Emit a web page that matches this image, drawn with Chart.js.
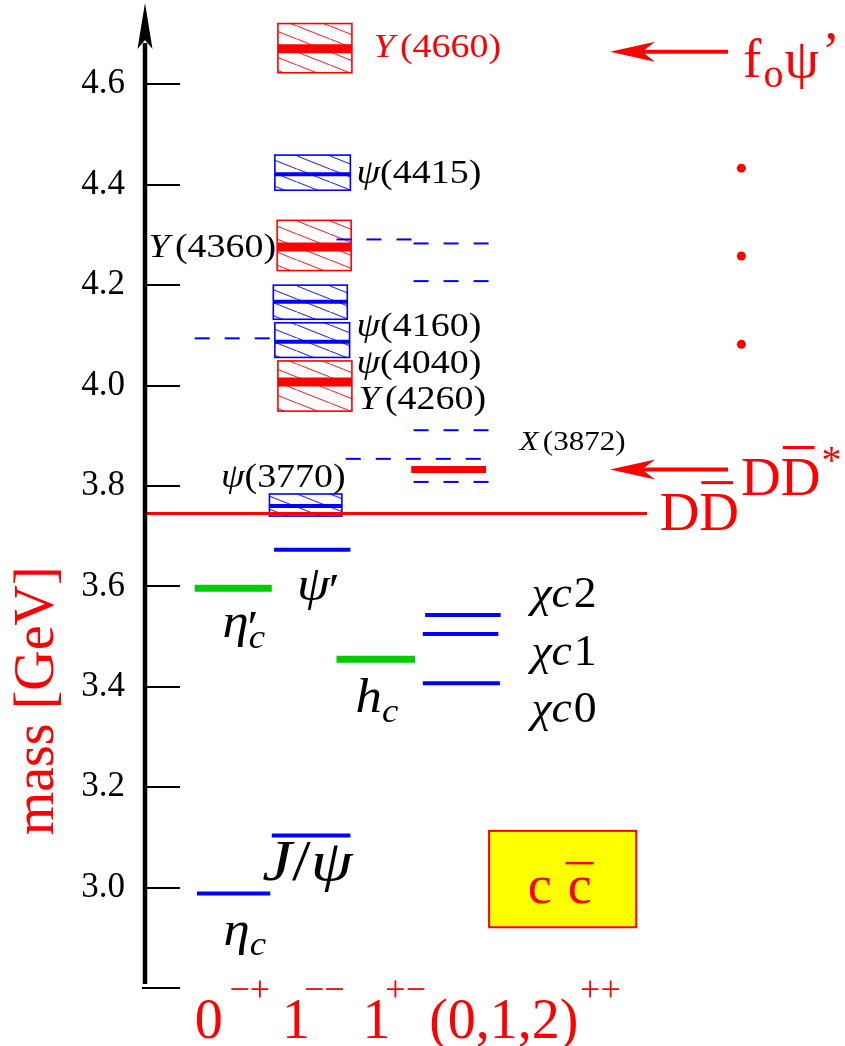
<!DOCTYPE html>
<html><head><meta charset="utf-8">
<script src="https://cdn.jsdelivr.net/npm/chart.js@4.4.1/dist/chart.umd.min.js"></script>
<style>html,body{margin:0;padding:0;background:#fff;overflow:hidden}</style>
</head><body>
<canvas id="c" width="845" height="1046" style="display:block;width:845px;height:1046px"></canvas>
<script>
// ================= DATA =================
// y tick values and labels (GeV)
const yTickValues = [2.8, 3.0, 3.2, 3.4, 3.6, 3.8, 4.0, 4.2, 4.4, 4.6];
const yTickLabels = ['', '3.0', '3.2', '3.4', '3.6', '3.8', '4.0', '4.2', '4.4', '4.6'];

// J^PC column labels (x axis): base text, superscript, and their start (column units)
const jpcBase = ['0', '1', '1', '(0,1,2)'];
const jpcSup  = ['−+', '−−', '+−', '++'];
const jpcX    = [0.62, 1.754, 2.797, 3.662];
const jpcSupX = [1.070, 2.037, 3.094, 5.621];

// established narrow levels (mass in GeV, horizontal span in column units)
const levelNames = ['η_c', 'J/ψ', 'η′_c', 'ψ′', 'h_c', 'χc0', 'χc1', 'χc2', 'X(3872)'];
const levelMass  = [2.988, 3.104, 3.596, 3.673, 3.455, 3.407, 3.505, 3.543, 3.833];
const levelFrom  = [0.65, 1.62, 0.62, 1.65, 2.46, 3.58, 3.58, 3.61, 3.43];
const levelTo    = [1.60, 2.64, 1.62, 2.64, 3.48, 4.58, 4.56, 4.59, 4.40];
const levelKind  = ['blue', 'blue', 'green', 'blue', 'green', 'blue', 'blue', 'blue', 'red'];

// broad resonances: central mass and width band
const resNames = ['ψ(3770)', 'Y(4260)', 'ψ(4040)', 'ψ(4160)', 'Y(4360)', 'ψ(4415)', 'Y(4660)'];
const resMass  = [3.760, 4.007, 4.087, 4.167, 4.276, 4.421, 4.671];
const resLow   = [3.740, 3.949, 4.056, 4.132, 4.229, 4.389, 4.623];
const resHigh  = [3.784, 4.049, 4.125, 4.200, 4.329, 4.459, 4.721];
const resFrom  = [1.59, 1.70, 1.66, 1.64, 1.69, 1.66, 1.70];
const resTo    = [2.53, 2.66, 2.63, 2.60, 2.65, 2.64, 2.66];
const resKind  = ['blue', 'red', 'blue', 'blue', 'red', 'blue', 'red'];

// predicted (potential model) levels, dashed
const predMass = [4.094, 4.291, 4.283, 4.208, 3.911, 3.854, 3.808];
const predFrom = [0.62, 2.46, 3.46, 3.46, 3.46, 2.58, 3.46];
const predTo   = [1.62, 3.47, 4.45, 4.45, 4.45, 4.45, 4.45];

// open-charm threshold
const thresholdName = 'DD̄';
const thresholdMass = 3.745;
const thresholdFrom = 0.0;
const thresholdTo   = 6.49;

// thresholds pointed at by arrows
const arrowNames = ['f0ψ′', 'DD̄*'];
const arrowMass  = [4.665, 3.833];
const arrowFrom  = [7.54, 7.54];
const arrowTo    = [6.01, 6.01];

// ellipsis dots
const dotMass = [4.433, 4.258, 4.082];
const dotX    = [7.714, 7.714, 7.714];

// level labels: text, anchor x (column units), baseline mass
const smallLabelText  = ['Y(4660)', 'ψ(4415)', 'Y(4360)', 'ψ(4160)', 'ψ(4040)', 'Y(4260)', 'ψ(3770)', 'X(3872)'];
const smallLabelX     = [2.94, 2.72, 1.676, 2.72, 2.72, 2.745, 2.579, 4.835];
const smallLabelMass  = [4.654, 4.403, 4.256, 4.098, 4.025, 3.953, 3.798, 3.871];
const smallLabelAlign = ['left', 'left', 'right', 'left', 'left', 'left', 'right', 'left'];
const smallLabelColor = ['red', 'black', 'black', 'black', 'black', 'black', 'black', 'black'];

const bigLabelText = ['ψ′', 'η′_c', 'h_c', 'χc2', 'χc1', 'χc0', 'J/ψ', 'η_c'];
const bigLabelX    = [1.947, 0.98, 2.708, 4.99, 4.99, 4.99, 1.496, 0.993];
const bigLabelMass = [3.573, 3.499, 3.350, 3.559, 3.443, 3.330, 3.015, 2.886];

// ================= STYLE =================
const COLORS = { blue: '#0000ff', green: '#00cc00', red: '#ff0000', black: '#000000' };
const KIND_WIDTH = { blue: 4, green: 7, red: 7 };
const RES_WIDTH = { blue: 4, red: 9 };
const SERIF = '"Liberation Serif", "Times New Roman", serif';
function fnt(size, italic) { return (italic ? 'italic ' : '') + size + 'px ' + SERIF; }

function parseMath(s) {
  const parts = [];
  for (let i = 0; i < s.length; i++) {
    const ch = s[i];
    if (ch === '_') { const c = s[++i]; parts.push({ t: c, it: /\p{L}/u.test(c), role: 'sub' }); continue; }
    if (ch === '′') { parts.push({ t: '′', it: false, role: 'sup', noAdv: s[i + 1] === '_' }); continue; }
    parts.push({ t: ch, it: /\p{L}/u.test(ch), role: 'base' });
  }
  return parts;
}
function drawMath(ctx, s, x, y, size, color, align, sx) {
  sx = sx || 1;
  const parts = parseMath(s);
  const ms = parts.map((p, i) => {
    const sz = p.role === 'base' ? size : p.role === 'sup' ? size * 0.95 : size * 0.7;
    ctx.font = fnt(sz, p.it);
    let w = ctx.measureText(p.t).width;
    const nx = parts[i + 1];
    if (p.it && p.role === 'base' && /[A-Z]/.test(p.t) && nx && nx.t === '(') w += size * 0.14;
    if (p.it && p.role === 'base' && nx && nx.role === 'base' && !nx.it && nx.t !== '(' && nx.t !== '/') w += size * 0.04;
    if (p.role === 'sup') w *= 0.7;
    return { sz, w };
  });
  let total = 0;
  parts.forEach((p, i) => { if (!p.noAdv) total += ms[i].w; });
  total *= sx;
  const x0 = align === 'right' ? x - total : align === 'center' ? x - total / 2 : x;
  ctx.save();
  ctx.translate(x0, y);
  ctx.scale(sx, 1);
  ctx.fillStyle = color; ctx.textBaseline = 'alphabetic'; ctx.textAlign = 'left';
  let cx = 0;
  parts.forEach((p, i) => {
    const m = ms[i];
    ctx.font = fnt(m.sz, p.it);
    const dy = p.role === 'sub' ? size * 0.22 : p.role === 'sup' ? size * 0.12 : 0;
    ctx.fillText(p.t, cx + (p.role === 'sup' ? -size * 0.02 : 0), dy);
    if (!p.noAdv) cx += m.w;
  });
  ctx.restore();
}

function hatchPattern(ctx, color) {
  const c = document.createElement('canvas');
  c.width = 33; c.height = 13;
  const g = c.getContext('2d');
  g.strokeStyle = color; g.lineWidth = 1.1; g.globalAlpha = 0.85;
  g.beginPath(); g.moveTo(-33, -13); g.lineTo(66, 26); g.stroke();
  return ctx.createPattern(c, 'repeat');
}

// ================= DATASETS =================
const datasets = [];
levelMass.forEach((m, i) => datasets.push({
  label: levelNames[i],
  data: [{ x: levelFrom[i], y: m }, { x: levelTo[i], y: m }],
  showLine: true, borderColor: COLORS[levelKind[i]], borderWidth: KIND_WIDTH[levelKind[i]],
  pointRadius: 0, borderCapStyle: 'butt'
}));
resMass.forEach((m, i) => datasets.push({
  label: resNames[i],
  data: [{ x: resFrom[i], y: m }, { x: resTo[i], y: m }],
  showLine: true, borderColor: COLORS[resKind[i]], borderWidth: RES_WIDTH[resKind[i]],
  pointRadius: 0, borderCapStyle: 'butt'
}));
predMass.forEach((m, i) => datasets.push({
  label: 'predicted',
  data: [{ x: predFrom[i], y: m }, { x: predTo[i], y: m }],
  showLine: true, borderColor: COLORS.blue, borderWidth: 2, borderDash: [15, 15],
  pointRadius: 0, borderCapStyle: 'butt'
}));
datasets.push({
  label: thresholdName,
  data: [{ x: thresholdFrom, y: thresholdMass }, { x: thresholdTo, y: thresholdMass }],
  showLine: true, borderColor: COLORS.red, borderWidth: 3, pointRadius: 0
});
datasets.push({
  label: 'dots',
  data: dotMass.map((m, i) => ({ x: dotX[i], y: m })),
  showLine: false, pointRadius: 4.5, pointBackgroundColor: COLORS.red, pointBorderWidth: 0
});

// ================= PLUGIN =================
const diagram = {
  id: 'diagram',
  beforeDatasetsDraw(chart) {
    const { ctx } = chart;
    const X = v => chart.scales.x.getPixelForValue(v);
    const Y = v => chart.scales.y.getPixelForValue(v);
    resMass.forEach((m, i) => {
      const col = COLORS[resKind[i]];
      const x0 = X(resFrom[i]), x1 = X(resTo[i]);
      const y0 = Y(resHigh[i]), y1 = Y(resLow[i]);
      ctx.save();
      ctx.fillStyle = hatchPattern(ctx, col);
      ctx.fillRect(x0, y0, x1 - x0, y1 - y0);
      ctx.strokeStyle = col; ctx.lineWidth = 1.6;
      ctx.strokeRect(x0, y0, x1 - x0, y1 - y0);
      ctx.restore();
    });
    // c cbar box
    const bx0 = X(4.44), bx1 = X(6.35), by0 = Y(3.113), by1 = Y(2.921);
    ctx.save();
    ctx.fillStyle = '#ffff00'; ctx.fillRect(bx0, by0, bx1 - bx0, by1 - by0);
    ctx.strokeStyle = COLORS.red; ctx.lineWidth = 2; ctx.strokeRect(bx0, by0, bx1 - bx0, by1 - by0);
    ctx.fillStyle = COLORS.red; ctx.font = fnt(54, false); ctx.textBaseline = 'alphabetic'; ctx.textAlign = 'center';
    const cx = (bx0 + bx1) / 2, base = by0 + 72;
    ctx.fillText('c', cx - 23, base);
    ctx.fillText('c', cx + 17, base);
    ctx.fillRect(cx + 3, base - 41, 28, 2.5);
    ctx.restore();
  },
  afterDraw(chart) {
    const { ctx, chartArea } = chart;
    const X = v => chart.scales.x.getPixelForValue(v);
    const Y = v => chart.scales.y.getPixelForValue(v);
    const L = chartArea.left;
    ctx.save();
    // axis line with arrow
    ctx.strokeStyle = '#000'; ctx.fillStyle = '#000';
    ctx.lineWidth = 4.5;
    ctx.beginPath(); ctx.moveTo(L, chartArea.bottom - 4); ctx.lineTo(L, chartArea.top + 34); ctx.stroke();
    ctx.beginPath();
    ctx.moveTo(L, chartArea.top - 6);
    ctx.lineTo(L + 7.5, chartArea.top + 40);
    ctx.lineTo(L, chartArea.top + 31);
    ctx.lineTo(L - 7.5, chartArea.top + 40);
    ctx.closePath(); ctx.fill();
    // ticks inside
    ctx.lineWidth = 2;
    yTickValues.forEach(v => {
      const y = Math.round(Y(v));
      ctx.beginPath(); ctx.moveTo(L - (v === 2.8 ? 3 : 0), y); ctx.lineTo(L + 35, y); ctx.stroke();
    });
    // y axis title
    ctx.save();
    ctx.translate(L - 107, Y(3.372));
    ctx.rotate(-Math.PI / 2);
    ctx.fillStyle = COLORS.red; ctx.font = fnt(56, false); ctx.textAlign = 'center'; ctx.textBaseline = 'middle';
    ctx.fillText('mass [GeV]', 0, 0);
    ctx.restore();
    // small labels
    smallLabelText.forEach((t, i) => {
      const sz = t === 'X(3872)' ? 27 : 33;
      drawMath(ctx, t, X(smallLabelX[i]), Y(smallLabelMass[i]), sz, COLORS[smallLabelColor[i]], smallLabelAlign[i], 1.15);
    });
    bigLabelText.forEach((t, i) => {
      const sz = t === 'J/ψ' ? 56 : t.startsWith('χ') ? 44 : 48;
      const sx = t === 'J/ψ' ? 1.2 : t.startsWith('χ') ? 1.04 : 1.1;
      drawMath(ctx, t, X(bigLabelX[i]), Y(bigLabelMass[i]), sz, '#000', 'left', sx);
    });
    // arrows
    ctx.strokeStyle = COLORS.red; ctx.fillStyle = COLORS.red; ctx.lineWidth = 4;
    arrowMass.forEach((m, i) => {
      const y = Y(m), xs = X(arrowFrom[i]), xt = X(arrowTo[i]);
      ctx.beginPath(); ctx.moveTo(xs, y); ctx.lineTo(xt + 20, y); ctx.stroke();
      ctx.beginPath();
      ctx.moveTo(xt, y); ctx.lineTo(xt + 45, y - 10); ctx.lineTo(xt + 32, y); ctx.lineTo(xt + 45, y + 10);
      ctx.closePath(); ctx.fill();
    });
    // threshold labels
    ctx.textAlign = 'left'; ctx.textBaseline = 'alphabetic';
    ctx.font = fnt(55, false);
    let x = X(6.653), y = Y(3.712);
    ctx.fillText('DD', x, y);
    const dw = ctx.measureText('D').width;
    ctx.fillRect(x + dw + 2, y - 49, dw - 8, 3);
    x = X(7.71); y = Y(3.782);
    ctx.fillText('DD', x, y);
    ctx.fillRect(x + dw + 2, y - 49, dw - 8, 3);
    ctx.font = fnt(40, false);
    ctx.fillText('*', x + 2 * dw + 1, y - 22);
    // f0ψ′
    x = X(7.736); y = Y(4.614);
    ctx.font = fnt(55, false);
    ctx.fillText('f', x, y);
    let fx = x + ctx.measureText('f').width;
    ctx.font = fnt(40, false);
    ctx.fillText('o', fx + 2, y + 10);
    fx += ctx.measureText('o').width + 3;
    ctx.font = fnt(55, false);
    ctx.fillText('ψ', fx, y);
    fx += ctx.measureText('ψ').width;
    ctx.fillText('’', fx + 3, y - 8);
    // x axis J^PC labels
    const lb = Y(2.70);
    jpcBase.forEach((b, i) => {
      ctx.font = fnt(56, false);
      ctx.fillText(b, X(jpcX[i]), lb);
      ctx.font = fnt(36, false);
      ctx.fillText(jpcSup[i], X(jpcSupX[i]), lb - 37);
    });
    ctx.restore();
  }
};

new Chart(document.getElementById('c'), {
  type: 'scatter',
  data: { datasets },
  options: {
    responsive: false, animation: false, devicePixelRatio: 1,
    layout: { padding: { left: 0, right: 0, top: 9, bottom: 58 } },
    plugins: { legend: { display: false }, tooltip: { enabled: false } },
    scales: {
      x: { type: 'linear', min: -0.025, max: 9, display: false },
      y: {
        type: 'linear', min: 2.8, max: 4.75,
        afterFit(s) { s.width = 145; s.paddingTop = 0; s.paddingBottom = 0; },
        grid: { display: false, drawTicks: false },
        border: { display: false },
        ticks: {
          stepSize: 0.2, includeBounds: false, padding: 20, color: '#000',
          font: { family: 'Liberation Serif', size: 35 },
          callback: (v) => {
            const i = yTickValues.findIndex(t => Math.abs(t - v) < 1e-6);
            return i >= 0 ? yTickLabels[i] : '';
          }
        }
      }
    }
  },
  plugins: [diagram]
});
</script>
</body></html>
